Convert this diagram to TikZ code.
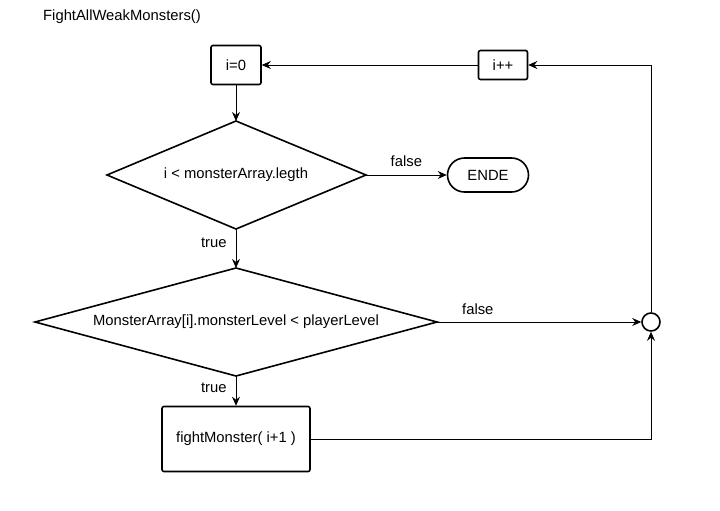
\documentclass[tikz,border=0pt]{standalone}
\usepackage{fontspec}
\setmainfont{Liberation Sans}
\usetikzlibrary{shapes.geometric,arrows.meta}
\begin{document}
\begin{tikzpicture}[x=1pt,y=-1pt,font=\fontsize{14.8}{17}\selectfont,
  box/.style={draw,line width=1.6pt,rounded corners=2pt,inner sep=0pt},
  dline/.style={draw,line width=1.6pt,line join=miter},
  term/.style={draw,line width=1.6pt,rounded corners=17pt,minimum width=81pt,minimum height=34pt,inner sep=0pt},
  conn/.style={line width=0.8pt,-{Stealth[length=9pt,width=8pt,inset=3pt]}},
  lbl/.style={inner sep=0pt}]
\useasboundingbox (0,0) rectangle (720,511);
\node[lbl,anchor=west] (title) at (43,17) {FightAllWeakMonsters()};
\node[box,minimum width=50pt,minimum height=39pt] (init) at (236,65) {i=0};
\node[box,minimum width=49pt,minimum height=29pt] (inc) at (503,65) {i++};
% decision 1
\coordinate (d1t) at (236,121);
\coordinate (d1b) at (236,229);
\coordinate (d1l) at (107,175);
\coordinate (d1r) at (366,175);
\path[dline] (d1t) -- (d1r) -- (d1b) -- (d1l) -- cycle;
\node[lbl] (d1) at (236,175) {i < monsterArray.legth};
\node[term] (ende) at (488,175) {ENDE};
% decision 2
\coordinate (d2t) at (236,268);
\coordinate (d2b) at (236,376);
\coordinate (d2l) at (35,322);
\coordinate (d2r) at (437,322);
\path[dline] (d2t) -- (d2r) -- (d2b) -- (d2l) -- cycle;
\node[lbl] (d2) at (236,322) {MonsterArray[i].monsterLevel < playerLevel};
\node[draw,circle,line width=1.6pt,minimum size=18pt,inner sep=0pt] (join) at (651,322) {};
\node[box,minimum width=148pt,minimum height=65pt] (fight) at (236,439) {fightMonster( i+1 )};
\draw[conn] (init) -- (d1t);
\draw[conn] (d1r) -- node[lbl,pos=0.5,above=8pt] {false} (ende);
\draw[conn] (d1b) -- node[lbl,left=9pt,pos=0.35] {true} (d2t);
\draw[conn] (d2r) -- node[lbl,pos=0.2,above=7pt] {false} (join);
\draw[conn] (d2b) -- node[lbl,left=9pt,pos=0.4] {true} (fight);
\draw[conn] (fight.east) -| (join.south);
\draw[conn] (join.north) |- (inc.east);
\draw[conn] (inc.west) -- (init.east);
\end{tikzpicture}
\end{document}
